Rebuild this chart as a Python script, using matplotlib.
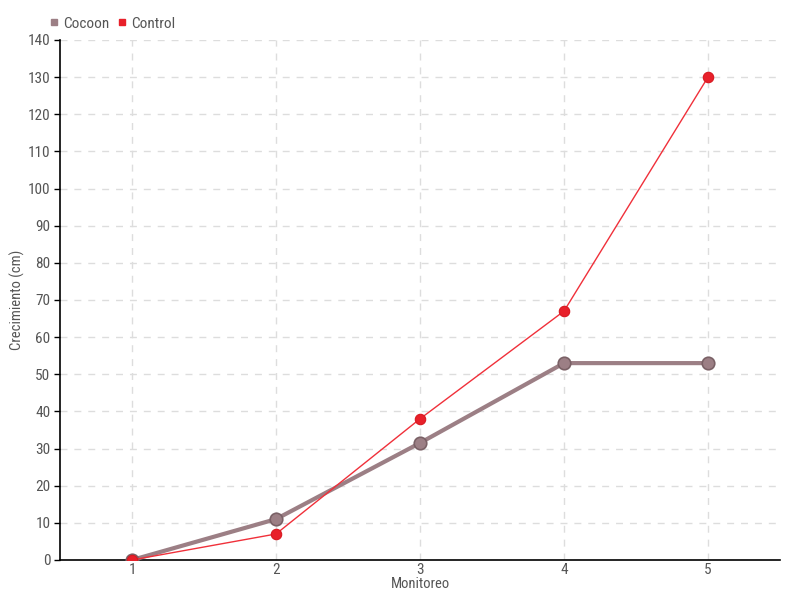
import matplotlib
matplotlib.use("Agg")
import matplotlib.pyplot as plt
from matplotlib.lines import Line2D
from matplotlib import font_manager

monitoreo = [1, 2, 3, 4, 5]
cocoon = [0, 11, 31.5, 53, 53]
control = [0, 7, 38, 67, 130]
yticks = list(range(0, 141, 10))

names = {f.name for f in font_manager.fontManager.ttflist}
fam = 'DejaVu Sans'
for cand in ['Liberation Sans Narrow', 'Roboto Condensed', 'Open Sans Condensed', 'DejaVu Sans Condensed']:
    if cand in names:
        fam = cand
        break
plt.rcParams['font.family'] = [fam, 'DejaVu Sans']
plt.rcParams['font.stretch'] = 'condensed'
txt = '#555555'

fig = plt.figure(figsize=(8, 6), dpi=100)
ax = fig.add_axes([0.075, 0.0667, 0.9, 0.8667])

c_cocoon = '#9c7f85'
c_control = '#e8202a'

ax.plot(monitoreo, cocoon, color=c_cocoon, lw=3, marker='o', ms=9,
        mfc='#9c7f85', mec='#7a6166', mew=1.2, zorder=3)
ax.plot(monitoreo, control, color='#f0303a', lw=1, marker='o', ms=7.5,
        mfc=c_control, mec='#d81820', mew=0.8, zorder=4)

ax.set_xlim(0.5, 5.5)
ax.set_ylim(0, 140)
ax.set_xticks(monitoreo)
ax.set_yticks(yticks)
ax.grid(True, color='#dddddd', linestyle=(0, (5, 5)), lw=1)
ax.set_axisbelow(True)
for s in ['top', 'right']:
    ax.spines[s].set_visible(False)
for s in ['left', 'bottom']:
    ax.spines[s].set_color('black')
    ax.spines[s].set_linewidth(1.2)
ax.tick_params(axis='x', length=0, pad=2, labelsize=11, labelcolor=txt)
ax.tick_params(axis='y', length=4, width=1, direction='out', pad=3, labelsize=11, labelcolor=txt)
ax.set_xlabel('Monitoreo', fontsize=10.5, color=txt, labelpad=0)
ax.set_ylabel('Crecimiento (cm)', fontsize=10.5, color=txt, labelpad=2)

handles = [Line2D([], [], marker='s', ls='', color=c_cocoon, ms=5),
           Line2D([], [], marker='s', ls='', color=c_control, ms=5)]
fig.legend(handles, ['Cocoon', 'Control'], loc='upper left', bbox_to_anchor=(0.045, 0.995),
           ncol=2, frameon=False, fontsize=11, handlelength=0.6, handletextpad=0.3,
           columnspacing=0.5, labelcolor=txt)

fig.savefig('out.png', dpi=100)
